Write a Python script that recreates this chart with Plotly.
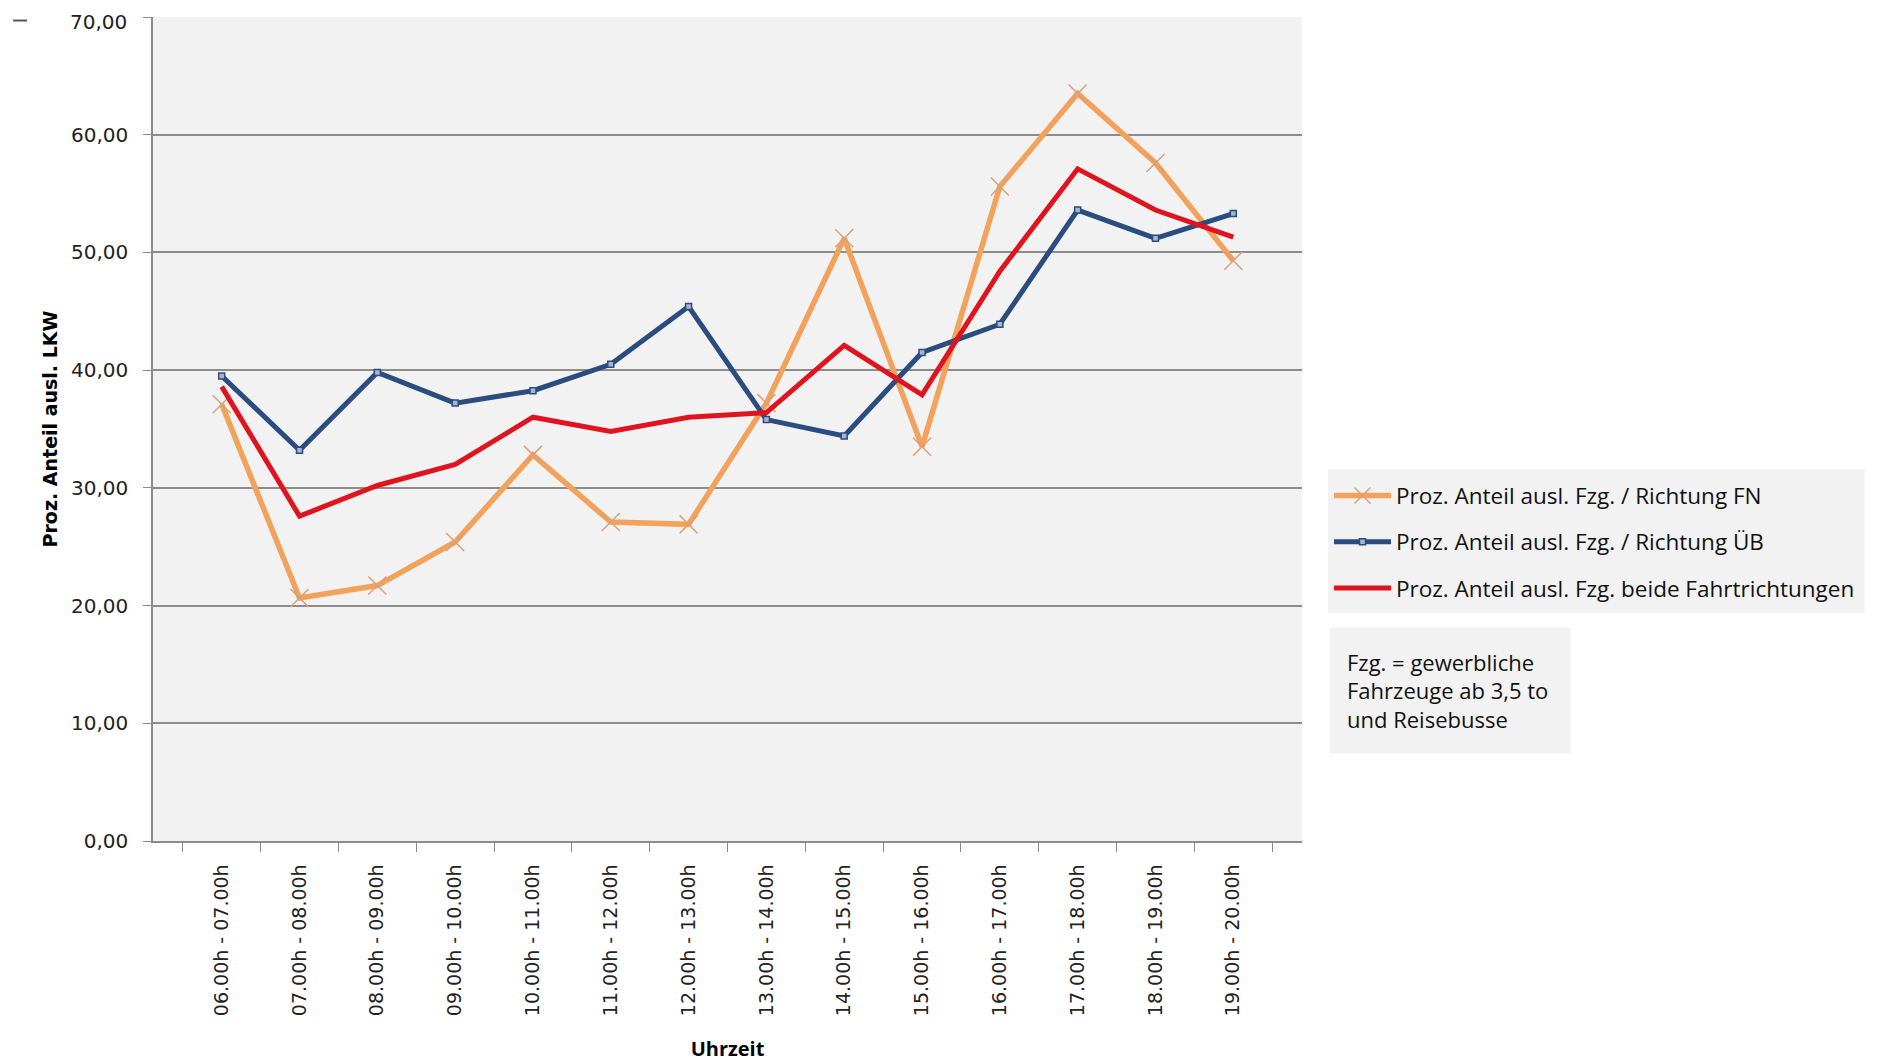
import plotly.graph_objects as go

categories = ["06.00h - 07.00h", "07.00h - 08.00h", "08.00h - 09.00h", "09.00h - 10.00h",
              "10.00h - 11.00h", "11.00h - 12.00h", "12.00h - 13.00h", "13.00h - 14.00h",
              "14.00h - 15.00h", "15.00h - 16.00h", "16.00h - 17.00h", "17.00h - 18.00h",
              "18.00h - 19.00h", "19.00h - 20.00h"]
fn_values = [37.1, 20.65, 21.7, 25.4, 32.8, 27.1, 26.9, 37.2, 51.2, 33.5, 55.6, 63.5, 57.6, 49.3]
ub_values = [39.5, 33.2, 39.8, 37.2, 38.25, 40.5, 45.4, 35.8, 34.4, 41.5, 43.9, 53.6, 51.2, 53.3]
both_values = [38.6, 27.6, 30.2, 32.0, 36.0, 34.8, 36.0, 36.4, 42.1, 37.9, 48.4, 57.1, 53.6, 51.3]

y_tickvals = [0, 10, 20, 30, 40, 50, 60, 70]
y_ticktext = ["0,00", "10,00", "20,00", "30,00", "40,00", "50,00", "60,00", "70,00"]

names = ["Proz. Anteil ausl. Fzg. / Richtung FN",
         "Proz. Anteil ausl. Fzg. / Richtung ÜB",
         "Proz. Anteil ausl. Fzg. beide Fahrtrichtungen"]

fig = go.Figure()
fig.add_trace(go.Scatter(
    x=categories, y=fn_values, name=names[0], mode="lines+markers", legendgroup="g1",
    line=dict(color="#F2A25A", width=5.5),
    marker=dict(symbol="x-thin-open", size=18, color="#D9A07A",
                line=dict(width=1.5, color="#D9A07A"))))
fig.add_trace(go.Scatter(
    x=categories, y=ub_values, name=names[1], mode="lines+markers", legendgroup="g2",
    line=dict(color="#2B4C7E", width=5),
    marker=dict(symbol="square", size=6, color="#A8B4D0",
                line=dict(width=1.5, color="#2B4C7E"))))
fig.add_trace(go.Scatter(
    x=categories, y=both_values, name=names[2], mode="lines", legendgroup="g3",
    line=dict(color="#E0141E", width=5)))

# top tick label drawn as annotation so it is not clipped by the page edge
top_label = y_ticktext[-1]
axis_ticktext = y_ticktext[:-1] + [""]

fig.update_layout(
    width=1878, height=1059,
    paper_bgcolor="white", plot_bgcolor="#F2F2F2",
    margin=dict(l=145, r=584, t=9, b=226, autoexpand=False),
    font=dict(family="DejaVu Sans", color="#222222"),
    showlegend=True,
    legend=dict(x=1.0235, y=0.445, xanchor="left", yanchor="top",
                bgcolor="rgba(0,0,0,0)", font=dict(family="Open Sans", size=22.5, color="#111111"),
                tracegroupgap=14, itemwidth=57, borderwidth=0),
    annotations=[
        dict(xref="paper", yref="paper", x=1.0235, y=0.2600, xanchor="left", yanchor="top",
             text="Fzg. = gewerbliche<br>Fahrzeuge ab 3,5 to<br>und Reisebusse",
             showarrow=False, align="left", bgcolor="#F2F2F2", width=206, height=91,
             borderpad=17, font=dict(family="Open Sans", size=22, color="#111111")),
        dict(xref="paper", yref="y", x=0, y=y_tickvals[-1], xanchor="right", yanchor="middle",
             xshift=-25, yshift=-5, text=top_label, showarrow=False, borderpad=0,
             font=dict(family="DejaVu Sans", size=20, color="#222222"))],
    shapes=[
        dict(type="rect", xref="paper", yref="paper", layer="below",
             x0=1.0226, x1=1.4896, y0=0.2764, y1=0.4508,
             fillcolor="#F2F2F2", line=dict(width=0)),
        dict(type="line", xref="paper", yref="paper",
             x0=-0.1217, x1=-0.1096, y0=0.9957, y1=0.9957,
             line=dict(color="#555555", width=2))],
)
fig.update_yaxes(
    range=[0, 70], tickmode="array", tickvals=y_tickvals, ticktext=axis_ticktext,
    automargin=False,
    showgrid=True, gridcolor="#8C8C8C", gridwidth=1.5,
    showline=True, linecolor="#8C8C8C", linewidth=1.5,
    ticks="outside", ticklen=8, tickcolor="#8C8C8C", ticklabelstandoff=11,
    tickfont=dict(family="DejaVu Sans", size=20, color="#222222"),
    zeroline=False,
    title=dict(text="<b>Proz. Anteil ausl. LKW</b>", standoff=8,
               font=dict(family="DejaVu Sans", size=19, color="#000000")))
fig.update_xaxes(
    type="category", tickangle=-90, tickson="boundaries", automargin=False,
    showgrid=False, showline=True, linecolor="#8C8C8C", linewidth=1.5,
    ticks="outside", ticklen=9, tickcolor="#8C8C8C", ticklabelstandoff=14,
    tickfont=dict(family="DejaVu Sans", size=19, color="#222222"),
    title=dict(text="<b>Uhrzeit</b>", standoff=27,
               font=dict(family="Open Sans", size=20, color="#000000")))

fig.write_html("out.html")
